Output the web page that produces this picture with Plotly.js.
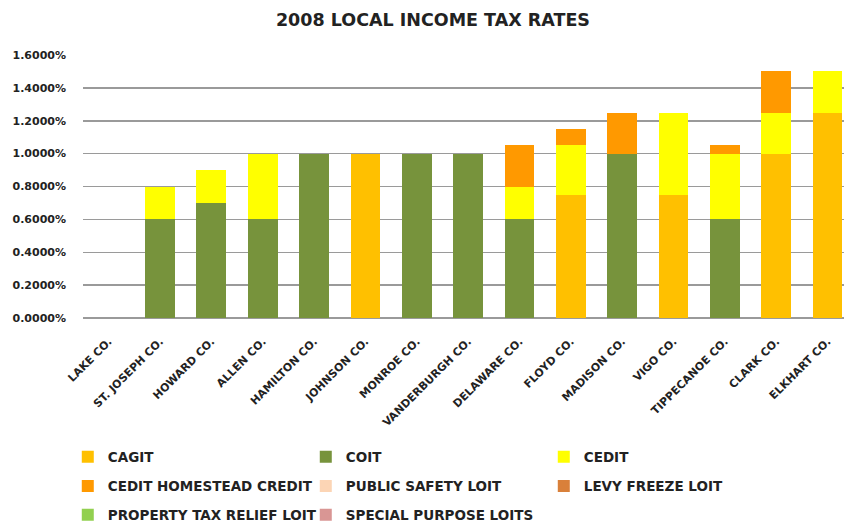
<!DOCTYPE html>
<html><head><meta charset="utf-8">
<script src="https://cdn.plot.ly/plotly-3.0.1.min.js"></script>
<style>body{margin:0;background:#fff}#c{width:844px;height:531px}</style>
</head><body><div id="c"></div>
<script>
const counties = ["LAKE CO.","ST. JOSEPH CO.","HOWARD CO.","ALLEN CO.","HAMILTON CO.","JOHNSON CO.","MONROE CO.","VANDERBURGH CO.","DELAWARE CO.","FLOYD CO.","MADISON CO.","VIGO CO.","TIPPECANOE CO.","CLARK CO.","ELKHART CO."];
const seriesNames = ["CAGIT","COIT","CEDIT","CEDIT HOMESTEAD CREDIT","PUBLIC SAFETY LOIT","LEVY FREEZE LOIT","PROPERTY TAX RELIEF LOIT","SPECIAL PURPOSE LOITS"];
// rates in percent
const cagit     = [0,0,0,0,0,1.0,0,0,0,0.75,0,0.75,0,1.0,1.25];
const coit      = [0,0.6,0.7,0.6,1.0,0,1.0,1.0,0.6,0,1.0,0,0.6,0,0];
const cedit     = [0,0.2,0.2,0.4,0,0,0,0,0.2,0.3,0,0.5,0.4,0.25,0.25];
const homestead = [0,0,0,0,0,0,0,0,0.25,0.1,0.25,0,0.05,0.25,0];
const publicSafety = [0,0,0,0,0,0,0,0,0,0,0,0,0,0,0];
const levyFreeze   = [0,0,0,0,0,0,0,0,0,0,0,0,0,0,0];
const propRelief   = [0,0,0,0,0,0,0,0,0,0,0,0,0,0,0];
const specialPurpose = [0,0,0,0,0,0,0,0,0,0,0,0,0,0,0];

const allSeries = [cagit, coit, cedit, homestead, publicSafety, levyFreeze, propRelief, specialPurpose];
const colors = ["#FFC000","#77933C","#FFFF00","#FF9900","#FCD5B5","#D9803A","#92D050","#D99694"];
const legendIds = ["legend","legend","legend","legend2","legend2","legend2","legend3","legend3"];

const FONT = "'DejaVu Sans',Arial,sans-serif";

const traces = allSeries.map((vals, i) => ({
  type: "bar",
  name: seriesNames[i],
  x: counties,
  y: vals.map(v => v / 100),
  marker: {color: colors[i], line: {width: 0}},
  legend: legendIds[i],
  hoverinfo: "name+y"
}));

function leg(y){
  return {orientation:"h", x:-0.02, xanchor:"left", y:y, yanchor:"middle",
    entrywidth:193, entrywidthmode:"pixels", traceorder:"normal",
    font:{family:FONT, size:13.5, color:"#222", weight:"bold"}, bgcolor:"rgba(0,0,0,0)", itemwidth:30};
}

const layout = {
  width: 844, height: 531,
  margin: {l:83, r:0, t:55, b:209},
  paper_bgcolor:"#fff", plot_bgcolor:"#fff",
  barmode: "stack",
  bargap: 0.42,
  title: {text:"2008 LOCAL INCOME TAX RATES", x:0.513, xanchor:"center", y:0.962, yanchor:"middle",
    font:{family:FONT, size:17.5, color:"#222", weight:"bold"}},
  xaxis: {range:[-0.5, 14.32], tickangle:-45, tickfont:{family:FONT, size:11, color:"#222", weight:"bold"},
    showgrid:false, zeroline:false, showline:false, ticks:"", ticklabelstandoff:14, automargin:false},
  yaxis: {range:[0, 0.016], dtick:0.002, tickformat:".4%", showgrid:true, gridcolor:"#9a9a9a", gridwidth:1.5,
    zeroline:true, zerolinecolor:"#9a9a9a", zerolinewidth:1.5, showline:false, ticks:"",
    ticklabelstandoff:16, tickfont:{family:FONT, size:11, color:"#222", weight:"bold"}, automargin:false},
  legend: leg(-0.528),
  legend2: leg(-0.640),
  legend3: leg(-0.749),
  showlegend: true
};

Plotly.newPlot("c", traces, layout, {displayModeBar:false, staticPlot:true});
</script></body></html>
